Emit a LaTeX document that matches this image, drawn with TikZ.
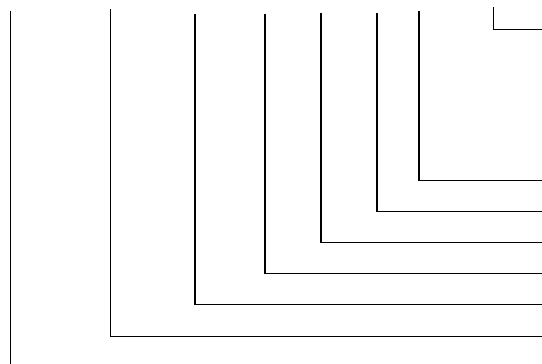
\documentclass[tikz,border=0pt]{standalone}
\begin{document}
\begin{tikzpicture}[x=1pt,y=-1pt,wire/.style={draw=black,line width=1.3pt}]
\useasboundingbox (0,0) rectangle (542,364);
\fill[white] (0,0) rectangle (542,364);
\coordinate (a1) at (10.5,10.5);
\coordinate (a2) at (10.5,364);
\draw[wire] (a1) -- (a2);
\draw[wire] (110.5,9) |- (542,336.5);
\draw[wire] (195,14) |- (542,304.5);
\draw[wire] (265,14) |- (542,273.5);
\draw[wire] (321,12.7) |- (542,242.5);
\draw[wire] (377,13.3) |- (542,211.5);
\draw[wire] (419,11.3) |- (542,180.5);
\draw[wire] (493.3,7.3) |- (542,29.5);
\end{tikzpicture}
\end{document}
